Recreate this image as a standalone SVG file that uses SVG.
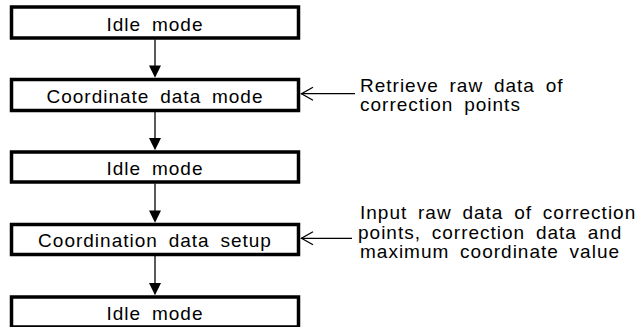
<svg xmlns="http://www.w3.org/2000/svg" width="635" height="327" viewBox="0 0 635 327">
<defs>
<style>
.box{fill:#fff;stroke:#000;stroke-width:3.5}
.t{font-family:"Liberation Sans",Arial,sans-serif;font-size:19px;letter-spacing:1px;word-spacing:4.5px;fill:#000}
.c{text-anchor:middle}
.ln{stroke:#000;stroke-width:1.3;fill:none}
.hd{fill:#000;stroke:none}
</style>
</defs>
<rect width="635" height="327" fill="#fff"/>
<g id="node1"><rect class="box" x="11.5" y="7" width="287" height="31"/><text class="t c" x="155" y="30.5">Idle mode</text></g>
<g id="node2"><rect class="box" x="11.5" y="79.5" width="287" height="31"/><text class="t c" x="155" y="102.5">Coordinate data mode</text></g>
<g id="node3"><rect class="box" x="11.5" y="152" width="287" height="30"/><text class="t c" x="155" y="175">Idle mode</text></g>
<g id="node4"><rect class="box" x="11.5" y="224.5" width="287" height="30"/><text class="t c" x="155" y="247">Coordination data setup</text></g>
<g id="node5"><rect class="box" x="11.5" y="297" width="287" height="30"/><text class="t c" x="155" y="319.5">Idle mode</text></g>
<g id="note1"><text class="t" x="360" y="91.5">Retrieve raw data of</text><text class="t" x="360" y="110.5">correction points</text></g>
<g id="note2"><text class="t" x="360" y="219.2">Input raw data of correction</text><text class="t" x="358" y="238.6">points, correction data and</text><text class="t" x="360" y="258">maximum coordinate value</text></g>
<g id="connectors">
<line class="ln" x1="155" y1="39.5" x2="155" y2="67"/><polygon class="hd" points="149,65.5 161,65.5 155,77.8"/>
<line class="ln" x1="155" y1="112" x2="155" y2="139"/><polygon class="hd" points="149,138 161,138 155,150.3"/>
<line class="ln" x1="155" y1="183.5" x2="155" y2="212"/><polygon class="hd" points="149,210.5 161,210.5 155,222.8"/>
<line class="ln" x1="155" y1="256" x2="155" y2="284"/><polygon class="hd" points="149,283 161,283 155,295.3"/>
<line class="ln" x1="301" y1="93.7" x2="355" y2="93.7"/><polyline class="ln" points="313,87.2 301.5,93.7 313,100.2"/>
<line class="ln" x1="301" y1="238.3" x2="352" y2="238.3"/><polyline class="ln" points="313,231.8 301.5,238.3 313,244.8"/>
</g>
</svg>
